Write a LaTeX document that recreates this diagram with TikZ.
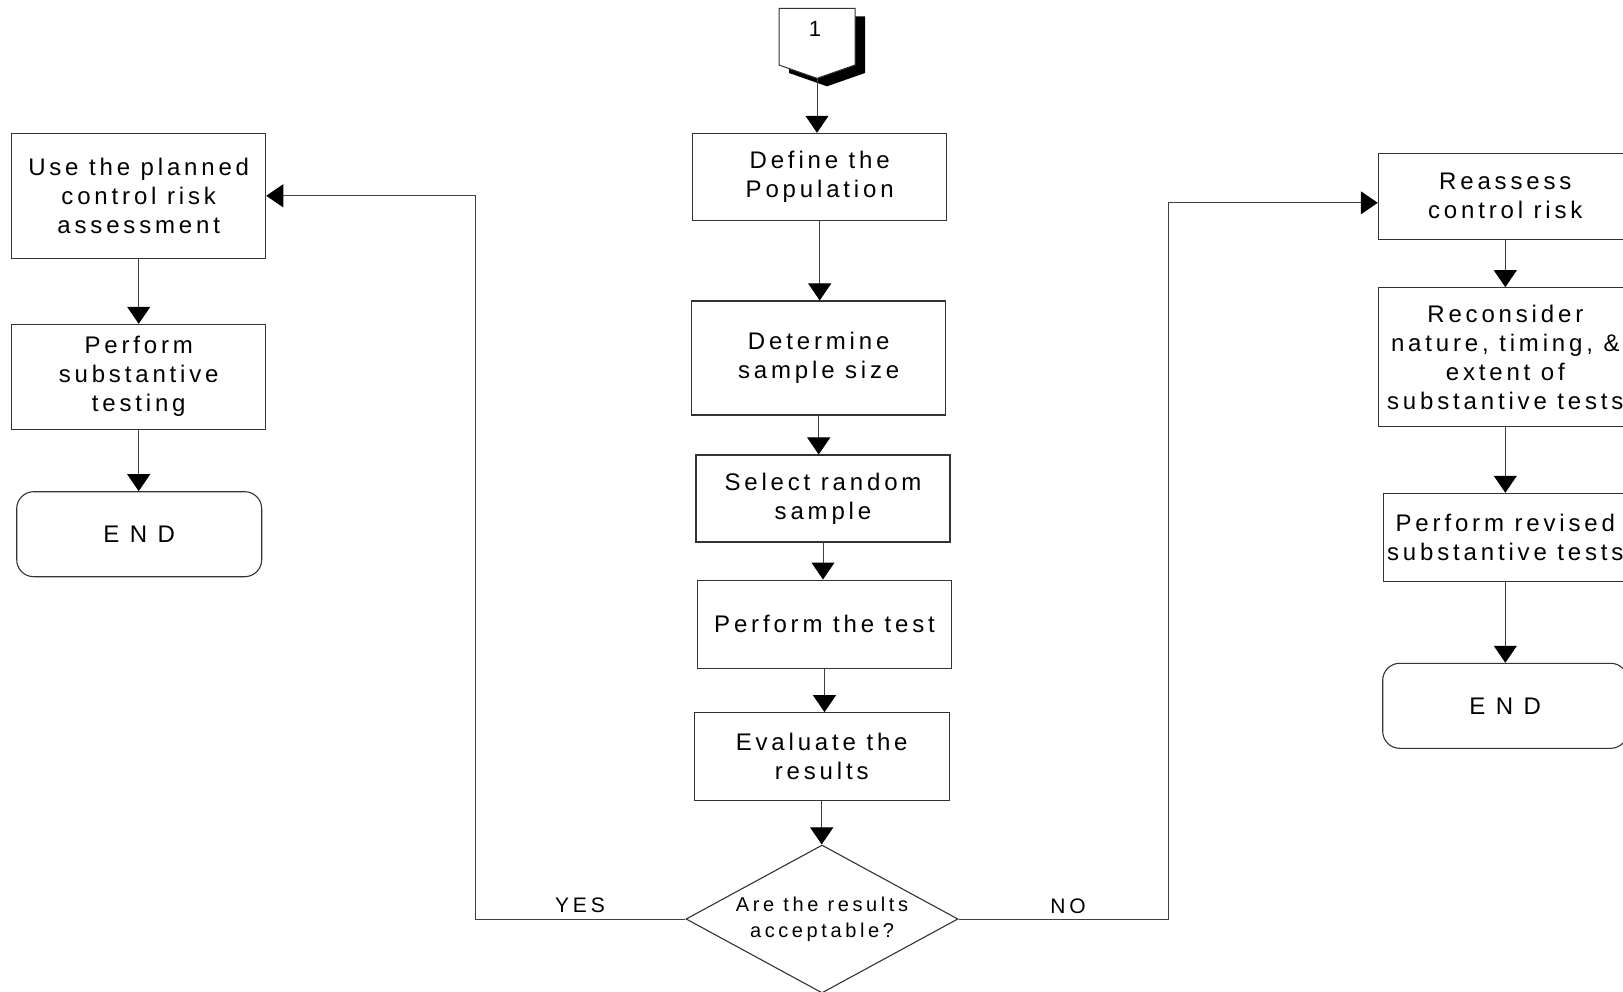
\documentclass[tikz,border=0pt]{standalone}
\usepackage{fontspec}
\setmainfont{Liberation Sans}[LetterSpace=16]
\newfontfamily\dfont{Liberation Sans}[LetterSpace=18]
\usetikzlibrary{arrows.meta,shapes.geometric,calc}
\tikzset{
  box/.style={draw=black!80, line width=1.1pt, rectangle, inner sep=0pt, align=center,
    font=\fontsize{24}{29}\selectfont},
  endbox/.style={box, rounded corners=17pt},
  arr/.style={draw=black!75, line width=1pt, -{Triangle[length=17pt,width=23pt,color=black,fill=black]}},
  decision/.style={diamond, draw=black!80, line width=1.1pt, inner sep=0pt, align=center,
    shape aspect=1.84, minimum width=272pt, minimum height=148pt,
    font=\dfont\fontsize{20}{26}\selectfont},
  lbl/.style={inner sep=0pt, font=\dfont\fontsize{21}{24}\selectfont},
}
\begin{document}
\begin{tikzpicture}[x=1pt,y=-1pt]
\useasboundingbox (0,0) rectangle (1623,991);
\clip (0,0) rectangle (1623,991);
\fill[white] (0,0) rectangle (1623,991);

% off-page connector
\fill[black] (789,16.3) -- (865,16.3) -- (865,73) -- (827,86.3) -- (789,73) -- cycle;
\draw[black!80, line width=1pt, fill=white] (779,8.3) -- (855,8.3) -- (855,65) -- (817,78.3) -- (779,65) -- cycle;
\node[inner sep=0pt, font=\fontsize{22}{26}\selectfont] (one) at (815,29) {1};
\coordinate (connpt) at (817,78.3);

% left column
\node[box, minimum width=254pt, minimum height=125pt] (useplan) at (138.7,195.8) {Use the planned\\control risk\\assessment};
\node[box, minimum width=254pt, minimum height=104.7pt] (subst) at (138.7,376.7) {Perform\\substantive\\testing};
\node[endbox, minimum width=245pt, minimum height=85pt] (endl) at (139.2,534.2) {E N D};

% center column
\node[box, minimum width=254pt, minimum height=86.7pt] (define) at (819.7,176.7) {Define the\\Population};
\node[box, minimum width=254pt, minimum height=114pt] (determine) at (818.7,358) {Determine\\sample size};
\node[box, minimum width=254pt, minimum height=87pt] (select) at (823,498.5) {Select random\\sample};
\node[box, minimum width=254.4pt, minimum height=88.3pt] (perform) at (824.5,624.2) {Perform the test};
\node[box, minimum width=254.7pt, minimum height=88pt] (evaluate) at (821.7,756.7) {Evaluate the\\results};
\node[decision] (dec) at (822,919) {Are the results\\acceptable?};

% right column
\node[box, minimum width=254pt, minimum height=86.1pt] (reassess) at (1505.3,196.3) {Reassess\\control risk};
\node[box, minimum width=254pt, minimum height=139pt] (reconsider) at (1505.3,357.2) {Reconsider\\nature, timing, \&\\extent of\\substantive tests};
\node[box, minimum width=244pt, minimum height=88.4pt] (revised) at (1505.3,537.5) {Perform revised\\substantive tests};
\node[endbox, minimum width=245pt, minimum height=85pt] (endr) at (1505.2,705.8) {E N D};

% labels
\node[lbl] (yes) at (580,905) {YES};
\node[lbl] (no) at (1068,906) {NO};

% connectors
\draw[arr] (connpt) -- (connpt |- define.north);
\draw[arr] (define.south) -- (define.south |- determine.north);
\draw[arr] (determine.south) -- (determine.south |- select.north);
\draw[arr] (select.south) -- (select.south |- perform.north);
\draw[arr] (perform.south) -- (perform.south |- evaluate.north);
\draw[arr] (evaluate.south) -- (evaluate.south |- dec.north);

\draw[arr] (dec.west) -- ++(-210,0) |- (useplan.east);
\draw[arr] (dec.east) -- ++(209.6,0) |- ($(reassess.west)+(0,6.5)$);

\draw[arr] (useplan.south) -- (useplan.south |- subst.north);
\draw[arr] (subst.south) -- (subst.south |- endl.north);

\draw[arr] (reassess.south) -- (reassess.south |- reconsider.north);
\draw[arr] (reconsider.south) -- (reconsider.south |- revised.north);
\draw[arr] (revised.south) -- (revised.south |- endr.north);
\end{tikzpicture}
\end{document}
